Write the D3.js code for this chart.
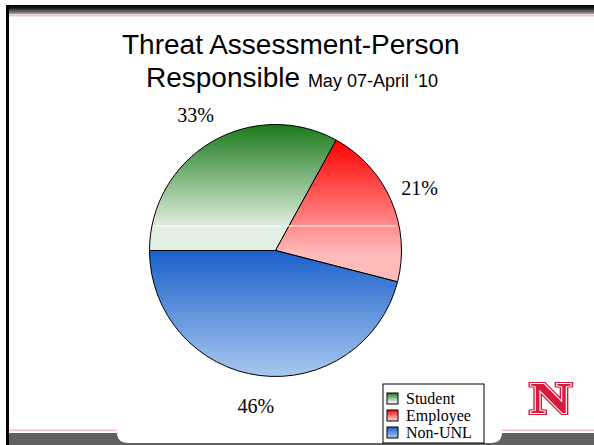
<!DOCTYPE html>
<html>
<head>
<meta charset="utf-8">
<script src="https://cdn.jsdelivr.net/npm/d3@7"></script>
<style>
  html, body { margin: 0; padding: 0; background: #fff; }
  svg { display: block; }
</style>
</head>
<body>
<div id="chart"></div>
<script>
// Chart data
const categories = ['Student', 'Employee', 'Non-UNL'];
const values = [33, 21, 46];
const pctLabels = ['33%', '21%', '46%'];

// gradient colours (top -> bottom) for each slice
const topColors = ['#1b7a1b', '#ff0000', '#1a60cc'];
const bottomColors = ['#e2efe2', '#ffbaba', '#a8c8ee'];
const fadeEnd = ['82%', '80%', '100%'];

const width = 594, height = 445;

const svg = d3.select('#chart')
    .append('svg')
    .attr('width', width)
    .attr('height', height);

const defs = svg.append('defs');

// slide frame gradient
const band = defs.append('linearGradient')
    .attr('id', 'topband')
    .attr('x1', 0).attr('y1', 0).attr('x2', 0).attr('y2', 1);
band.append('stop').attr('offset', '0%').attr('stop-color', '#000');
band.append('stop').attr('offset', '35%').attr('stop-color', '#1a1a1a');
band.append('stop').attr('offset', '70%').attr('stop-color', '#666');
band.append('stop').attr('offset', '100%').attr('stop-color', '#a0a0a0');

categories.forEach((c, i) => {
    const g = defs.append('linearGradient')
        .attr('id', 'grad' + i)
        .attr('x1', 0).attr('y1', 0).attr('x2', 0).attr('y2', 1);
    g.append('stop').attr('offset', '0%').attr('stop-color', topColors[i]);
    g.append('stop').attr('offset', fadeEnd[i]).attr('stop-color', bottomColors[i]);
    g.append('stop').attr('offset', '100%').attr('stop-color', bottomColors[i]);
});

// ---- slide decoration ----
svg.append('rect')
    .attr('x', 6).attr('y', 5)
    .attr('width', width - 6).attr('height', 9)
    .attr('fill', 'url(#topband)');
svg.append('rect')
    .attr('x', 9).attr('y', 14.5)
    .attr('width', width - 9).attr('height', 2)
    .attr('fill', '#ffb8c8');
svg.append('rect')
    .attr('x', 6).attr('y', 5)
    .attr('width', 3).attr('height', height - 5)
    .attr('fill', '#000');

// bottom band
svg.append('rect')
    .attr('x', 9).attr('y', 429.5)
    .attr('width', width - 9).attr('height', 1.6)
    .attr('fill', '#f0c0cc');
svg.append('rect')
    .attr('x', 9).attr('y', 433)
    .attr('width', width - 9).attr('height', 12)
    .attr('fill', '#5f6160');

// white tab at the bottom
const tx0 = 117, tx1 = 502, ty0 = 415, ty1 = 443, r = 11;
svg.append('path')
    .attr('d', `M${tx0},${ty0} L${tx1},${ty0} L${tx1},${ty1 - r} Q${tx1},${ty1} ${tx1 - r},${ty1}
               L${tx0 + r},${ty1} Q${tx0},${ty1} ${tx0},${ty1 - r} Z`)
    .attr('fill', '#fff');

// ---- title ----
svg.append('text')
    .attr('x', 122).attr('y', 54)
    .style('font-family', 'Liberation Sans, Arial, sans-serif')
    .style('font-size', '28px')
    .text('Threat Assessment-Person');

const t2 = svg.append('text')
    .attr('x', 146).attr('y', 87)
    .style('font-family', 'Liberation Sans, Arial, sans-serif')
    .style('font-size', '28px');
t2.append('tspan').text('Responsible ');
t2.append('tspan').style('font-size', '18px').text('May 07-April \u201810');

// ---- pie ----
const cx = 275.5, cy = 250.5, radius = 126;

const pie = d3.pie()
    .sort(null)
    .startAngle(-Math.PI / 2)
    .endAngle(Math.PI * 1.5)
    .value(d => d);

const arc = d3.arc().innerRadius(0).outerRadius(radius);
const labelArc = d3.arc().innerRadius(157).outerRadius(157);

const g = svg.append('g')
    .attr('transform', `translate(${cx},${cy})`);

const arcs = pie(values);

g.selectAll('path.slice')
    .data(arcs)
    .enter()
    .append('path')
    .attr('class', 'slice')
    .attr('d', arc)
    .attr('fill', (d, i) => `url(#grad${i})`)
    .attr('stroke', '#000')
    .attr('stroke-width', 1);

// faint white line crossing the pie
defs.append('clipPath').attr('id', 'pieclip')
    .append('circle').attr('r', radius - 3);
g.append('line')
    .attr('clip-path', 'url(#pieclip)')
    .attr('x1', -radius).attr('x2', radius)
    .attr('y1', -24.5).attr('y2', -24.5)
    .attr('stroke', '#fff')
    .attr('stroke-width', 1);

g.selectAll('text.pct')
    .data(arcs)
    .enter()
    .append('text')
    .attr('class', 'pct')
    .attr('transform', d => `translate(${labelArc.centroid(d)})`)
    .attr('text-anchor', 'middle')
    .attr('dy', '0.35em')
    .style('font-family', 'Liberation Serif, Times New Roman, serif')
    .style('font-size', '20px')
    .text((d, i) => pctLabels[i]);

// ---- legend ----
const legend = svg.append('g').attr('transform', 'translate(383,384)');
legend.append('rect')
    .attr('x', 0).attr('y', 0)
    .attr('width', 101).attr('height', 59)
    .attr('fill', '#fff')
    .attr('stroke', '#000')
    .attr('stroke-width', 1);

const items = legend.selectAll('g.item')
    .data(categories)
    .enter()
    .append('g')
    .attr('class', 'item')
    .attr('transform', (d, i) => `translate(4,${9 + i * 17})`);

items.append('rect')
    .attr('width', 11).attr('height', 11)
    .attr('fill', (d, i) => `url(#grad${i})`)
    .attr('stroke', '#000')
    .attr('stroke-width', 1);

items.append('text')
    .attr('x', 19).attr('y', 10.5)
    .style('font-family', 'Liberation Serif, Times New Roman, serif')
    .style('font-size', '16px')
    .text(d => d);

// ---- N logo ----
const logo = svg.append('g')
    .attr('transform', 'translate(530,413) scale(1.3,1)');
const logoStyle = sel => sel
    .attr('x', 0).attr('y', 0)
    .style('font-family', 'Liberation Serif, serif')
    .style('font-weight', 'bold')
    .style('font-size', '44px')
    .text('N');
logo.append('text').call(logoStyle)
    .attr('fill', '#d7193c').attr('stroke', '#d7193c').attr('stroke-width', 4)
    .attr('stroke-linejoin', 'miter');
logo.append('text').call(logoStyle)
    .attr('fill', 'none').attr('stroke', '#fff').attr('stroke-width', 1.8);
logo.append('text').call(logoStyle)
    .attr('fill', '#d7193c');
</script>
</body>
</html>
